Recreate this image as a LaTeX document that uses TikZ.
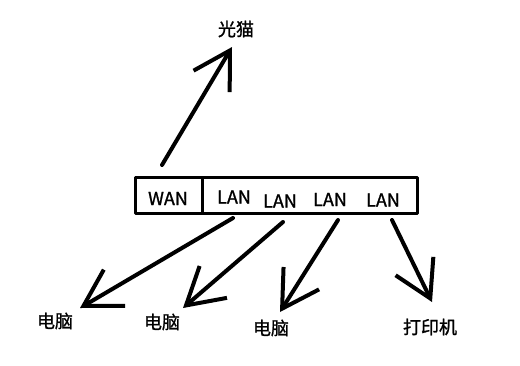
\documentclass[tikz,border=0pt]{standalone}
\usepackage{fontspec}
\newfontfamily\cjk[FakeBold=1.2]{Noto Sans CJK SC}
\usetikzlibrary{arrows.meta}
\begin{document}
\begin{tikzpicture}[x=1pt, y=-1pt, line cap=round, line join=round,
    every node/.style={font=\cjk\fontsize{18}{18}\selectfont, inner sep=0pt},
    cell/.style={draw, line width=3pt, minimum height=36pt},
    link/.style={line width=4pt, -{Straight Barb[length=36pt, width=42pt]}}]
    \useasboundingbox[fill=white] (0,0) rectangle (520,365);

    % 路由器端口
    \node[cell, minimum width=67pt] (wanbox) at (168.5,195) {};
    \node[cell, minimum width=215pt] (lanbox) at (309.5,195) {};
    \node (wan) at (168,198.5) {WAN};
    \node (l1) at (234,197) {LAN};
    \node (l2) at (280,201) {LAN};
    \node (l3) at (330,199.5) {LAN};
    \node (l4) at (383,200) {LAN};

    % 设备
    \node (modem) at (236,29) {光猫};
    \node (pc1) at (55,321) {电脑};
    \node (pc2) at (162,322) {电脑};
    \node (pc3) at (271,328) {电脑};
    \node (printer) at (430,327) {打印机};

    % 连线端点
    \coordinate (s0) at (162,165);  \coordinate (t0) at (232,47);
    \coordinate (s1) at (233,218);  \coordinate (t1) at (80,308);
    \coordinate (s2) at (283,222);  \coordinate (t2) at (183,308);
    \coordinate (s3) at (338,220);  \coordinate (t3) at (280,312);
    \coordinate (s4) at (392,220);  \coordinate (t4) at (432,302);

    \draw[link] (s0) -- (t0);
    \draw[link] (s1) -- (t1);
    \draw[link] (s2) -- (t2);
    \draw[link] (s3) -- (t3);
    \draw[link] (s4) -- (t4);
\end{tikzpicture}
\end{document}
